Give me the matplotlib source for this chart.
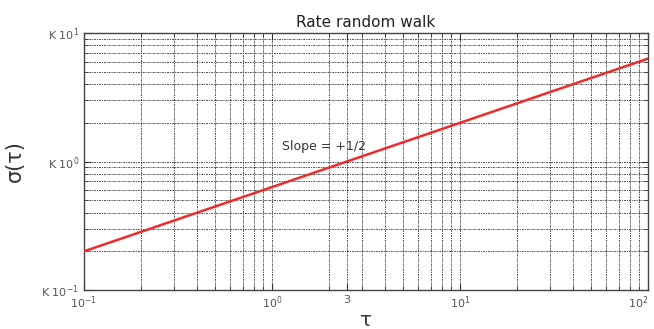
import matplotlib
matplotlib.use("Agg")
import matplotlib.pyplot as plt
from matplotlib.ticker import LogLocator, NullFormatter, FixedLocator

tau = [0.1, 100]
sigma = [0.2, 6.32]
x_ticks = [0.1, 1, 2.5, 10, 100]
x_tick_labels = [r'$10^{-1}$', r'$10^{0}$', '3', r'$10^{1}$', r'$10^{2}$']
y_ticks = [0.1, 1, 10]
y_tick_labels = [r'K $10^{-1}$', r'K $10^{0}$', r'K $10^{1}$']

plt.rcParams['font.family'] = ['DejaVu Sans']
fig = plt.figure(figsize=(6.54, 3.29), dpi=100)
ax = fig.add_axes([0.1284, 0.1185, 0.8624, 0.7812])
ax.plot(tau, sigma, color='#ee2a2a', lw=1.8, zorder=3)
ax.set_xscale('log')
ax.set_yscale('log')
ax.set_xlim(0.1, 100)
ax.set_ylim(0.1, 10)

ax.xaxis.set_major_locator(FixedLocator(x_ticks))
ax.set_xticklabels(x_tick_labels)
ax.yaxis.set_major_locator(FixedLocator(y_ticks))
ax.set_yticklabels(y_tick_labels)
ax.xaxis.set_minor_locator(LogLocator(base=10, subs=range(2, 10)))
ax.yaxis.set_minor_locator(LogLocator(base=10, subs=range(2, 10)))
ax.xaxis.set_minor_formatter(NullFormatter())
ax.yaxis.set_minor_formatter(NullFormatter())

ax.tick_params(which='both', direction='in', top=True, right=True, colors='#333333',
               labelcolor='#555555', labelsize=8)
ax.tick_params(which='major', length=5)
ax.tick_params(which='minor', length=3)
ax.get_xticklabels()[-1].set_horizontalalignment('right')
ax.grid(True, which='both', color='#222222', linestyle=(0, (2, 1, 1, 1)), lw=0.7, alpha=0.8)
for s in ax.spines.values():
    s.set_color('#444444')
    s.set_linewidth(1.0)

ax.set_title('Rate random walk', fontsize=11, color='#222222', pad=4)
ax.set_xlabel('τ', fontsize=14, color='#333333', labelpad=0)
ax.set_ylabel('σ(τ)', fontsize=15, color='#333333', labelpad=12)
ax.text(1.9, 1.3, 'Slope = +1/2', fontsize=9, color='#333333', ha='center', va='center')

fig.savefig('out.png', dpi=100)
